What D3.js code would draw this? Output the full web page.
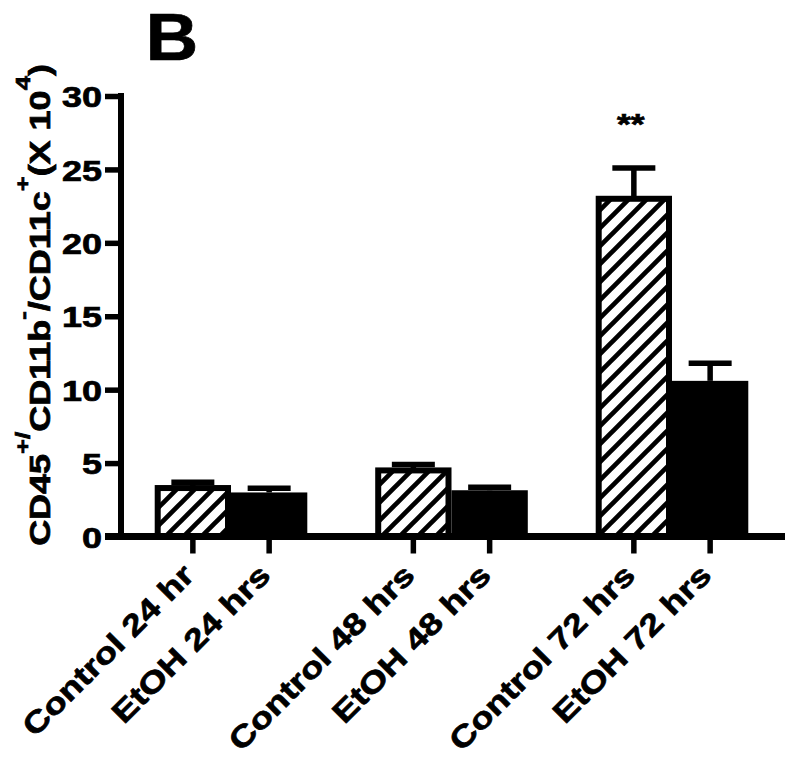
<!DOCTYPE html>
<html>
<head>
<meta charset="utf-8">
<script src="https://cdn.jsdelivr.net/npm/d3@7"></script>
<style>
  html, body { margin: 0; padding: 0; background: #fff; }
  svg { display: block; }
  text { font-family: "Liberation Sans", Arial, Helvetica, sans-serif; font-weight: bold; fill: #000; stroke: #000; stroke-width: 0.7px; }
</style>
</head>
<body>
<svg id="chart" width="800" height="757"></svg>
<script>
// ---- data ----
const groups = ["24", "48", "72"];
const series = ["Control", "EtOH"];
const labels = [
  ["Control 24 hr", "EtOH 24 hrs"],
  ["Control 48 hrs", "EtOH 48 hrs"],
  ["Control 72 hrs", "EtOH 72 hrs"]
];
const controlMean = [3.3, 4.5, 23.0];
const controlErr  = [0.4, 0.4, 2.1];
const etohMean    = [3.0, 3.15, 10.6];
const etohErr     = [0.28, 0.2, 1.2];
const yTicks = [0, 5, 10, 15, 20, 25, 30];
const significance = ["", "", "**"];

// ---- layout ----
const svg = d3.select("#chart");
const TX = 1.22; // horizontal stretch of the lettering
const y = d3.scaleLinear().domain([0, 30]).range([536.5, 96]);
const x0 = d3.scaleBand().domain(groups).range([118, 785]).paddingInner(0.308).paddingOuter(0.1665);
const x1 = d3.scaleBand().domain(series).range([0, x0.bandwidth()]);

const defs = svg.append("defs");
const pat = defs.append("pattern")
  .attr("id", "hatch").attr("patternUnits", "userSpaceOnUse")
  .attr("width", 18).attr("height", 18);
pat.append("rect").attr("width", 18).attr("height", 18).attr("fill", "#fff");
pat.append("path")
  .attr("d", "M-4.5,4.5 L4.5,-4.5 M0,18 L18,0 M13.5,22.5 L22.5,13.5")
  .attr("stroke", "#000").attr("stroke-width", 4.7).attr("stroke-linecap", "square");

const rows = groups.map((g, i) => ([
  { g, s: "Control", mean: controlMean[i], err: controlErr[i], label: labels[i][0] },
  { g, s: "EtOH", mean: etohMean[i], err: etohErr[i], label: labels[i][1] }
])).flat();
const cx = d => x0(d.g) + x1(d.s) + x1.bandwidth() / 2;

// error bars (behind bars)
const eb = svg.append("g");
rows.forEach(d => {
  const c = cx(d);
  eb.append("line").attr("x1", c).attr("x2", c).attr("y1", y(d.mean)).attr("y2", y(d.mean + d.err))
    .attr("stroke", "#000").attr("stroke-width", 5.5);
  eb.append("line").attr("x1", c - 21.5).attr("x2", c + 21.5)
    .attr("y1", y(d.mean + d.err)).attr("y2", y(d.mean + d.err))
    .attr("stroke", "#000").attr("stroke-width", 5.5);
});

// bars
const bars = svg.append("g");
rows.forEach(d => {
  const bx = x0(d.g) + x1(d.s);
  const w = x1.bandwidth();
  if (d.s === "Control") {
    bars.append("rect")
      .attr("x", bx + 3).attr("y", y(d.mean))
      .attr("width", w - 6).attr("height", y(0) - y(d.mean))
      .attr("fill", "url(#hatch)").attr("stroke", "#000").attr("stroke-width", 6);
  } else {
    bars.append("rect")
      .attr("x", bx).attr("y", y(d.mean))
      .attr("width", w).attr("height", y(0) - y(d.mean))
      .attr("fill", "#000");
  }
});

// y axis
const yAxis = svg.append("g").attr("transform", "translate(121,0)")
  .call(d3.axisLeft(y).tickValues(yTicks).tickSize(16).tickSizeOuter(0).tickPadding(19));
yAxis.select(".domain").attr("stroke", "#000").attr("stroke-width", 6)
  .attr("d", `M0,${y(30) - 3}V${y(0)}`);
yAxis.selectAll(".tick line").attr("stroke", "#000").attr("stroke-width", 5.5);
yAxis.selectAll(".tick text")
  .attr("x", -19 / TX).attr("dy", "0.36em")
  .attr("transform", `scale(${TX},1)`)
  .style("font-size", "29.5px").style("font-family", "'Liberation Sans', Arial, sans-serif")
  .style("font-weight", "bold").style("stroke", "#000").style("stroke-width", "0.7px");

// x axis
svg.append("line").attr("x1", 105).attr("x2", 785).attr("y1", y(0)).attr("y2", y(0))
  .attr("stroke", "#000").attr("stroke-width", 7);
rows.forEach(d => {
  const c = cx(d);
  svg.append("line").attr("x1", c).attr("x2", c).attr("y1", y(0)).attr("y2", y(0) + 17)
    .attr("stroke", "#000").attr("stroke-width", 5.5);
  svg.append("text")
    .attr("transform", `translate(${c + 3},${577}) rotate(-45) scale(${TX},1)`)
    .attr("text-anchor", "end")
    .style("font-size", "30px")
    .text(d.label);
});

// significance
groups.forEach((g, i) => {
  if (!significance[i]) return;
  const c = x0(g) + x1("Control") + x1.bandwidth() / 2 - 3;
  svg.append("text")
    .attr("transform", `translate(${c},134) scale(${TX},1)`)
    .attr("text-anchor", "middle").style("font-size", "29px")
    .text(significance[i]);
});

// panel letter
svg.append("text")
  .attr("transform", "translate(172,60) scale(1.1,1)")
  .attr("text-anchor", "middle").style("font-size", "66px")
  .text("B");

// y label
const yl = svg.append("text")
  .attr("transform", `translate(50,305) rotate(-90) scale(${TX},1)`)
  .attr("text-anchor", "middle").style("font-size", "29.5px");
const parts = [
  ["CD45", false], ["+/", true], ["CD11b", false], ["-", true],
  ["/CD11c", false], ["+", true], ["(X 10", false], ["4", true], [")", false]
];
let up = false;
parts.forEach(([t, sup]) => {
  const ts = yl.append("tspan").text(t);
  if (sup && !up) { ts.attr("dy", -20).style("font-size", "21px"); up = true; }
  else if (sup) { ts.style("font-size", "21px"); }
  else if (!sup && up) { ts.attr("dy", 20); up = false; }
});
</script>
</body>
</html>
